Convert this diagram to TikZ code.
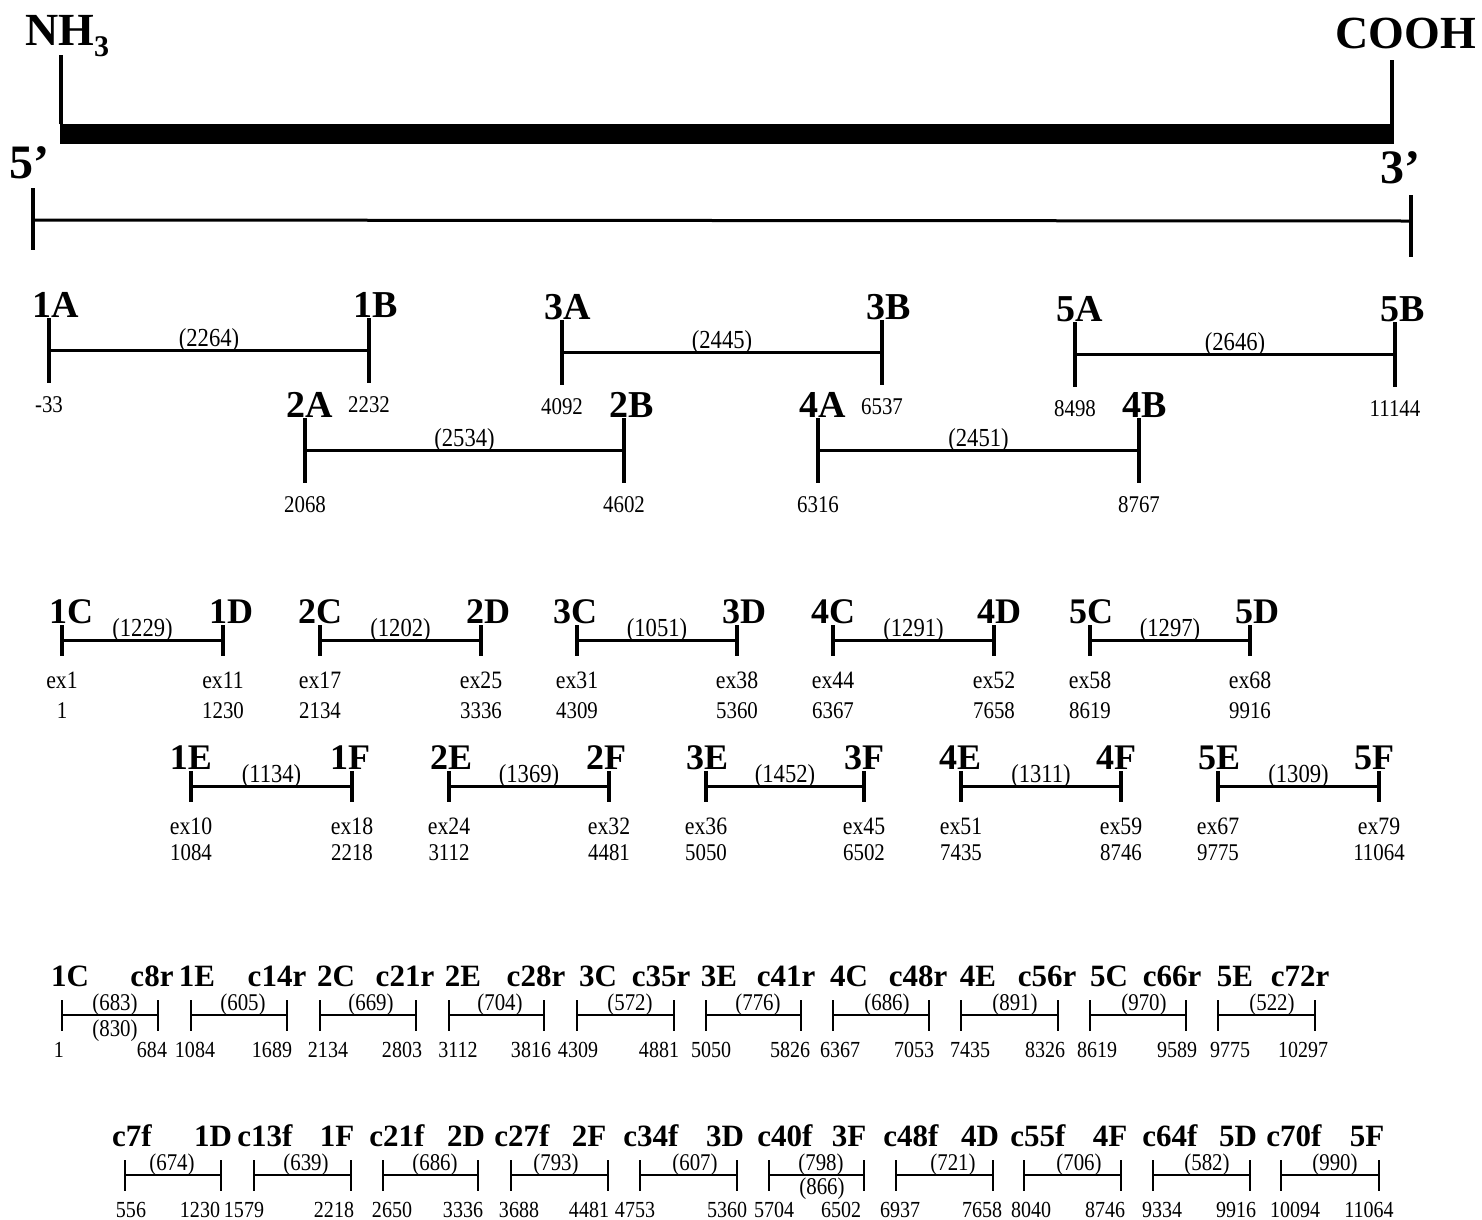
\documentclass[tikz,border=0pt]{standalone}
\usepackage{fontspec}
\setmainfont{Liberation Serif}
\newfontfamily\tallfont[FakeStretch=0.87]{Liberation Serif}
\begin{document}
\begin{tikzpicture}[x=1pt,y=-1pt,
  txt/.style={inner sep=0pt, anchor=base, font=\tallfont\fontsize{#1}{#1}\selectfont},
  btxt/.style={inner sep=0pt, anchor=base, font=\fontsize{#1}{#1}\selectfont\bfseries},
  tickA/.style={line width=3.5pt},
  barA/.style={line width=3pt},
  tickC/.style={line width=2.2pt},
  barC/.style={line width=2pt}]
\fill[white] (0,0) rectangle (1482,1219);
\useasboundingbox (0,0) rectangle (1482,1219);

% ---------- protein / gene ----------
\node[btxt=46, anchor=base west] (nh) at (25,45) {NH\raisebox{-11pt}{\fontsize{30}{30}\selectfont 3}};
\node[btxt=46, anchor=base east] (cooh) at (1476,48) {COOH};
\coordinate (nt) at (61,55); \coordinate (nb) at (61,124);
\coordinate (ct) at (1392,60); \coordinate (cb) at (1392,124);
\coordinate (barL) at (59.5,134); \coordinate (barR) at (1393.5,134);
\draw[tickA] (nt) -- (nb);
\draw[tickA] (ct) -- (cb);
\draw[line width=20pt] (barL) -- (barR);

\node[btxt=48, anchor=base west] (five) at (9,178) {5’};
\node[btxt=48, anchor=base west] (three) at (1380,183) {3’};
\coordinate (f1) at (33,188); \coordinate (f2) at (33,250); \coordinate (fm) at (33,220);
\coordinate (t1) at (1411,195); \coordinate (t2) at (1411,257); \coordinate (tm) at (1411,221);
\draw[tickA] (f1) -- (f2);
\draw[tickA] (t1) -- (t2);
\draw[barA] (fm) -- (tm);

% ---------- fragments A/B ----------
\foreach \i/\xa/\xb/\yt/\lax/\la/\lbx/\lb/\len/\na/\nb in {
  1/49/369/318/56/1A/376/1B/2264/-33/2232,
  2/305/624/418/310/2A/632/2B/2534/2068/4602,
  3/562/882/320/568/3A/889/3B/2445/4092/6537,
  4/818/1139/418/823/4A/1145/4B/2451/6316/8767,
  5/1075/1395/322/1080/5A/1403/5B/2646/8498/11144}{
  \coordinate (ab-\i-a1) at (\xa,\yt);
  \coordinate (ab-\i-a2) at (\xa,\yt+65);
  \coordinate (ab-\i-b1) at (\xb,\yt);
  \coordinate (ab-\i-b2) at (\xb,\yt+65);
  \coordinate (ab-\i-am) at (\xa,\yt+32);
  \coordinate (ab-\i-bm) at (\xb,\yt+32);
  \draw[tickA] (ab-\i-a1) -- (ab-\i-a2);
  \draw[tickA] (ab-\i-b1) -- (ab-\i-b2);
  \draw[barA] (ab-\i-am) -- (ab-\i-bm);
  \node[btxt=38] (ab-\i-la) at (\lax,\yt-1) {\la};
  \node[btxt=38] (ab-\i-lb) at (\lbx,\yt-1) {\lb};
  \node[txt=26] (ab-\i-len) at ({(\xa+\xb)/2},\yt+28) {(\len)};
  \node[txt=24] (ab-\i-na) at (\xa,\yt+94) {\na};
  \node[txt=24] (ab-\i-nb) at (\xb,\yt+94) {\nb};
}

% ---------- fragments C/D and E/F ----------
\foreach \i/\yt/\ye/\yn/\xa/\xb/\lax/\la/\lbx/\lb/\len/\ea/\eb/\na/\nb in {
  c1/625/688/718/62/223/71/1C/231/1D/1229/ex1/ex11/1/1230,
  c2/625/688/718/320/481/320/2C/488/2D/1202/ex17/ex25/2134/3336,
  c3/625/688/718/577/737/575/3C/744/3D/1051/ex31/ex38/4309/5360,
  c4/625/688/718/833/994/833/4C/999/4D/1291/ex44/ex52/6367/7658,
  c5/625/688/718/1090/1250/1091/5C/1257/5D/1297/ex58/ex68/8619/9916,
  e1/771/834/860/191/352/191/1E/350/1F/1134/ex10/ex18/1084/2218,
  e2/771/834/860/449/609/451/2E/606/2F/1369/ex24/ex32/3112/4481,
  e3/771/834/860/706/864/707/3E/864/3F/1452/ex36/ex45/5050/6502,
  e4/771/834/860/961/1121/960/4E/1116/4F/1311/ex51/ex59/7435/8746,
  e5/771/834/860/1218/1379/1219/5E/1374/5F/1309/ex67/ex79/9775/11064}{
  \coordinate (cd-\i-a1) at (\xa,\yt);
  \coordinate (cd-\i-a2) at (\xa,\yt+31);
  \coordinate (cd-\i-b1) at (\xb,\yt);
  \coordinate (cd-\i-b2) at (\xb,\yt+31);
  \coordinate (cd-\i-am) at (\xa,\yt+15);
  \coordinate (cd-\i-bm) at (\xb,\yt+15);
  \draw[tickA] (cd-\i-a1) -- (cd-\i-a2);
  \draw[tickA] (cd-\i-b1) -- (cd-\i-b2);
  \draw[barA] (cd-\i-am) -- (cd-\i-bm);
  \node[btxt=36] (cd-\i-la) at (\lax,\yt-2) {\la};
  \node[btxt=36] (cd-\i-lb) at (\lbx,\yt-2) {\lb};
  \node[txt=26] (cd-\i-len) at ({(\xa+\xb)/2},\yt+11) {(\len)};
  \node[txt=25] (cd-\i-ea) at (\xa,\ye) {\ea};
  \node[txt=25] (cd-\i-eb) at (\xb,\ye) {\eb};
  \node[txt=24] (cd-\i-na) at (\xa,\yn) {\na};
  \node[txt=24] (cd-\i-nb) at (\xb,\yn) {\nb};
}

% ---------- subclones ----------
\foreach \i/\yt/\xa/\xb/\lax/\la/\lbx/\lb/\len/\lenx/\nax/\na/\nbx/\nb in {
  r1/1000/62/158/70/1C/152/c8r/683/115/59/1/152/684,
  r2/1000/191/287/197/1E/277/c14r/605/243/195/1084/272/1689,
  r3/1000/320/416/336/2C/405/c21r/669/371/328/2134/402/2803,
  r4/1000/449/544/463/2E/536/c28r/704/500/458/3112/531/3816,
  r5/1000/577/674/598/3C/661/c35r/572/630/578/4309/659/4881,
  r6/1000/706/801/719/3E/786/c41r/776/758/711/5050/790/5826,
  r7/1000/833/929/849/4C/918/c48r/686/887/840/6367/914/7053,
  r8/1000/961/1058/978/4E/1047/c56r/891/1015/970/7435/1045/8326,
  r9/1000/1090/1186/1109/5C/1172/c66r/970/1144/1097/8619/1177/9589,
  r10/1000/1218/1315/1235/5E/1300/c72r/522/1272/1230/9775/1303/10297,
  f1/1160/125/221/132/c7f/213/1D/674/172/131/556/200/1230,
  f2/1160/254/351/265/c13f/337/1F/639/306/244/1579/334/2218,
  f3/1160/383/478/397/c21f/466/2D/686/435/392/2650/463/3336,
  f4/1160/511/608/522/c27f/589/2F/793/556/519/3688/589/4481,
  f5/1160/640/737/651/c34f/725/3D/607/695/635/4753/727/5360,
  f6/1160/769/864/785/c40f/849/3F/798/821/774/5704/841/6502,
  f7/1160/896/993/911/c48f/980/4D/721/953/900/6937/982/7658,
  f8/1160/1024/1121/1038/c55f/1110/4F/706/1079/1031/8040/1105/8746,
  f9/1160/1153/1250/1170/c64f/1238/5D/582/1207/1162/9334/1236/9916,
  f10/1160/1281/1379/1294/c70f/1367/5F/990/1335/1295/10094/1369/11064}{
  \coordinate (sc-\i-a1) at (\xa,\yt);
  \coordinate (sc-\i-a2) at (\xa,\yt+31);
  \coordinate (sc-\i-b1) at (\xb,\yt);
  \coordinate (sc-\i-b2) at (\xb,\yt+31);
  \coordinate (sc-\i-am) at (\xa,\yt+15);
  \coordinate (sc-\i-bm) at (\xb,\yt+15);
  \draw[tickC] (sc-\i-a1) -- (sc-\i-a2);
  \draw[tickC] (sc-\i-b1) -- (sc-\i-b2);
  \draw[barC] (sc-\i-am) -- (sc-\i-bm);
  \node[btxt=31] (sc-\i-la) at (\lax,\yt-14) {\la};
  \node[btxt=31] (sc-\i-lb) at (\lbx,\yt-14) {\lb};
  \node[txt=24] (sc-\i-len) at (\lenx,\yt+10) {(\len)};
  \node[txt=23] (sc-\i-na) at (\nax,\yt+57) {\na};
  \node[txt=23] (sc-\i-nb) at (\nbx,\yt+57) {\nb};
}
\node[txt=24] (x830) at (115,1036) {(830)};
\node[txt=24] (x866) at (822,1194) {(866)};
\end{tikzpicture}
\end{document}
